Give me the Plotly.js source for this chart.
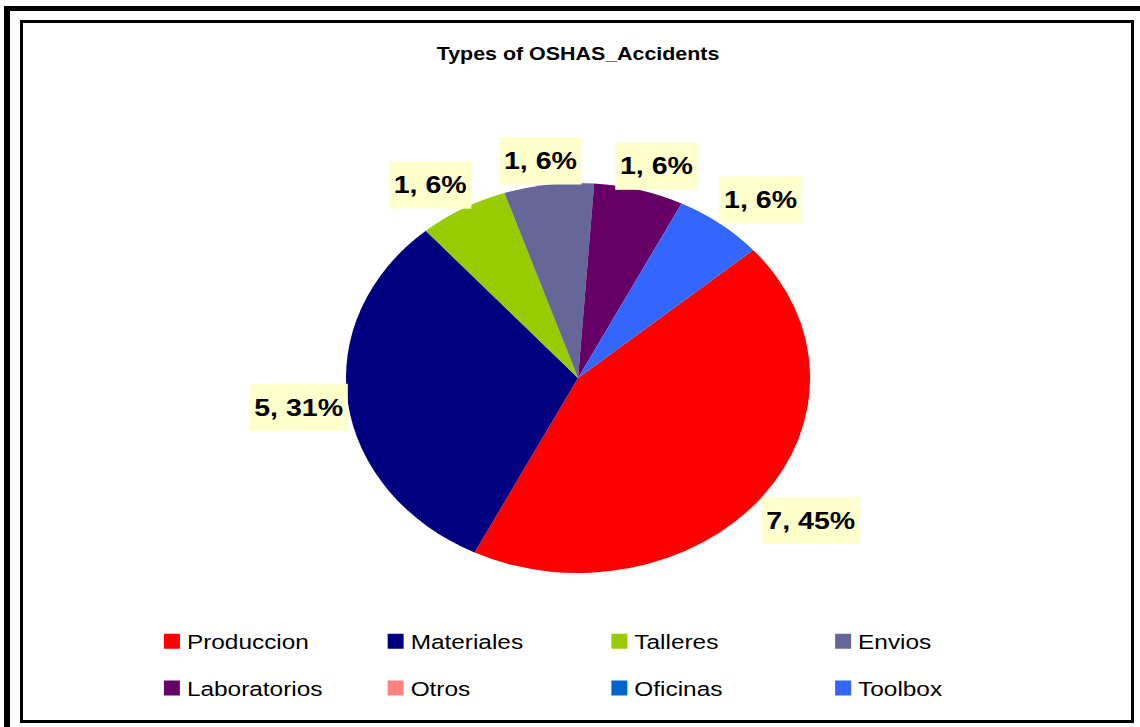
<!DOCTYPE html>
<html><head><meta charset="utf-8">
<script src="https://cdn.plot.ly/plotly-3.0.1.min.js"></script>
<style>
html,body{margin:0;padding:0;background:#fff;width:1140px;height:727px;overflow:hidden;}
#outer{position:absolute;left:4px;top:6px;width:1136px;height:721px;border-top:5px solid #000;border-left:6px solid #000;box-sizing:border-box;}
#frame{position:absolute;left:20px;top:20px;width:1114px;height:703px;border:3px solid #000;box-sizing:border-box;background:#fff;overflow:hidden;}
#chart{position:absolute;left:0;top:0;width:931px;height:697px;transform:scaleX(1.19);transform-origin:0 0;}
</style></head>
<body>
<div id="outer"></div>
<div id="frame"><div id="chart"></div></div>
<script>
const categories = ['Produccion','Materiales','Talleres','Envios','Laboratorios','Otros','Oficinas','Toolbox'];
const counts = [7, 5, 1, 1, 1, 0, 0, 1];
const percentLabels = [45, 31, 6, 6, 6, 0, 0, 6];
const colors = ['#FF0000','#000080','#99CC00','#666699','#660066','#FF8080','#0066CC','#3366FF'];
const chartTitle = 'Types of OSHAS_Accidents';

const FONT = 'Liberation Sans, Arial, sans-serif';
const texts = counts.map((c, i) => c > 0 ? c + ', ' + percentLabels[i] + '%' : '');

const data = [{
  type: 'pie',
  labels: categories,
  values: counts,
  sort: false,
  direction: 'clockwise',
  rotation: 49,
  marker: {colors: colors, line: {width: 0}},
  text: texts,
  textinfo: 'text',
  textposition: 'outside',
  outsidetextfont: {family: FONT, size: 24, color: '#000', weight: 'bold'},
  domain: {x: [0.1, 0.902], y: [0.2109, 0.7705]},
  hoverinfo: 'none'
}];

const layout = {
  width: 931, height: 697,
  margin: {l: 0, r: 0, t: 0, b: 0},
  paper_bgcolor: '#fff',
  title: {text: '<b>' + chartTitle + '</b>', font: {family: FONT, size: 18, color: '#000'},
          x: 0.501, xanchor: 'center', y: 0.9555, yanchor: 'middle'},
  showlegend: true,
  legend: {orientation: 'h', x: 0.105, xanchor: 'left', y: 0.1413, yanchor: 'top',
           font: {family: FONT, size: 20.5, color: '#000'}, entrywidth: 143, traceorder: 'normal'}
};

function clamp(v) { return Math.max(-1, Math.min(1, v)); }

Plotly.newPlot('chart', data, layout, {staticPlot: true, displayModeBar: false}).then(gd => {
  const ns = 'http://www.w3.org/2000/svg';
  const cd0 = gd.calcdata[0][0];
  const padX = 4, padY = 10;
  gd.querySelectorAll('g.slicetext').forEach(g => {
    const t = g.querySelector('text');
    if (!t || !t.textContent.trim()) return;
    const sl = g.closest('g.slice');
    const pt = sl && sl.__data__;
    const bb = t.getBBox();
    const hw = bb.width / 2 + padX, hh = bb.height / 2 + padY;
    if (pt && pt.pxmid) {
      const len = Math.hypot(pt.pxmid[0], pt.pxmid[1]) || 1;
      const ux = pt.pxmid[0] / len, uy = pt.pxmid[1] / len;
      const px = cd0.r * ux, py = cd0.r * uy;
      const cX = cd0.cx + px + hw * clamp(1.6 * ux);
      const cY = cd0.cy + py + hh * clamp(1.6 * uy);
      t.setAttribute('transform', 'translate(' + (cX - (bb.x + bb.width / 2)) + ',' + (cY - (bb.y + bb.height / 2)) + ')');
    }
    const r = document.createElementNS(ns, 'rect');
    r.setAttribute('x', bb.x - padX);
    r.setAttribute('y', bb.y - padY);
    r.setAttribute('width', bb.width + 2 * padX);
    r.setAttribute('height', bb.height + 2 * padY);
    const tr = t.getAttribute('transform');
    if (tr) r.setAttribute('transform', tr);
    r.setAttribute('fill', '#FFFFCC');
    g.insertBefore(r, t);
  });
  const extra = 17;
  gd.querySelectorAll('.legend .traces').forEach((el, i) => {
    el.querySelectorAll('.legendpoints path').forEach(p => {
      const ex = p.getAttribute('transform') || '';
      p.setAttribute('transform', ex + ' translate(7.4,0) scale(1.12,1.25)');
    });
    if (i < 4) return;
    const tr = el.getAttribute('transform') || '';
    const m = tr.match(/translate\(\s*([-\d.e]+)[ ,]+([-\d.e]+)\s*\)/);
    if (m) el.setAttribute('transform', 'translate(' + m[1] + ',' + (parseFloat(m[2]) + extra) + ')');
  });
  document.querySelectorAll('clipPath[id^="legend"] rect').forEach(rc => {
    const h = parseFloat(rc.getAttribute('height') || '0');
    rc.setAttribute('height', h + extra + 10);
  });
  const bg = gd.querySelector('.legend .bg');
  if (bg) { const h = parseFloat(bg.getAttribute('height') || '0'); bg.setAttribute('height', h + extra + 10); }
});
</script>
</body></html>
